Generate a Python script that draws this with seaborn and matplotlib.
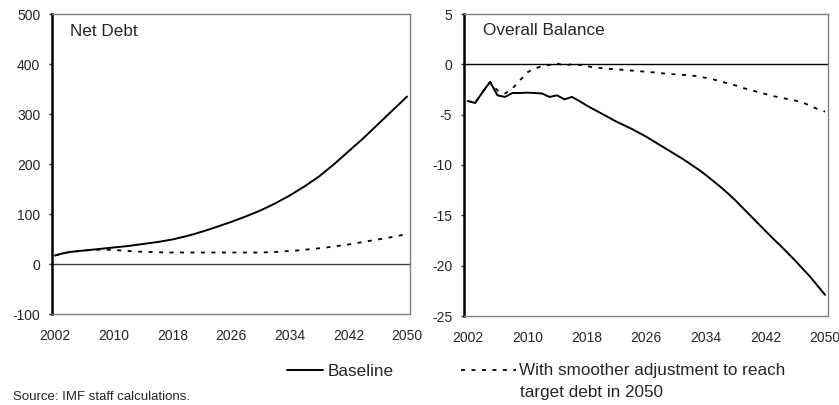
import numpy as np
import pandas as pd
import matplotlib
matplotlib.use("Agg")
import matplotlib.pyplot as plt
import seaborn as sns

years = list(range(2002, 2051))

debt_baseline = [17, 21, 24, 25.5, 27, 28.5, 30, 31.5, 33, 34.5,
                 36, 38, 40, 42, 44, 46.5, 49, 52.5, 56, 60,
                 64.5, 69, 74, 79, 84, 89.5, 95, 101, 107, 114,
                 121, 129, 137, 146, 155, 165, 175, 187, 199, 212,
                 225, 238, 251, 265, 279, 293, 307, 321, 335]
debt_smooth = [17, 21, 24, 25.5, 27, 28, 28.5, 28.5, 28, 27,
               26, 25, 24.5, 24, 23.5, 23, 23, 23, 23, 23,
               23, 23, 23, 23, 23, 23, 23, 23, 23, 23.5,
               24, 25, 26, 27, 28.5, 30, 31.5, 33, 35, 37,
               39, 41.5, 44, 46.5, 49, 51.5, 54, 57, 60]

bal_baseline = [-3.64, -3.84, -2.75, -1.75, -3.08, -3.24, -2.85, -2.85, -2.81, -2.85,
                -2.9, -3.24, -3.08, -3.48, -3.24, -3.64, -4.1, -4.5, -4.9, -5.3,
                -5.7, -6.05, -6.4, -6.8, -7.2, -7.65, -8.1, -8.55, -9.0, -9.45,
                -9.95, -10.45, -11.0, -11.6, -12.2, -12.85, -13.55, -14.3, -15.05, -15.8,
                -16.55, -17.3, -18.0, -18.75, -19.5, -20.3, -21.1, -22.0, -22.9]
bal_smooth = [-3.64, -3.84, -2.75, -1.75, -2.6, -2.9, -2.4, -1.6, -0.8, -0.4,
              -0.2, -0.05, 0.07, -0.1, 0.0, -0.05, -0.2, -0.3, -0.38, -0.45,
              -0.5, -0.55, -0.62, -0.68, -0.74, -0.8, -0.88, -0.95, -1.0, -1.05,
              -1.1, -1.2, -1.35, -1.5, -1.7, -1.9, -2.1, -2.35, -2.55, -2.75,
              -2.95, -3.15, -3.3, -3.45, -3.6, -3.8, -4.1, -4.45, -4.7]

xticks = [2002, 2010, 2018, 2026, 2034, 2042, 2050]
debt_yticks = [-100, 0, 100, 200, 300, 400, 500]
bal_yticks = [-25, -20, -15, -10, -5, 0, 5]

titles = ["Net Debt", "Overall Balance"]
legend_labels = ["Baseline", "With smoother adjustment to reach", "target debt in 2050"]
source_text = "Source: IMF staff calculations."

sns.set_style("white")
plt.rcParams["font.family"] = ["Liberation Sans", "DejaVu Sans"]

W, H = 839, 405
fig = plt.figure(figsize=(W / 100, H / 100), dpi=100)

def rect(x0, y0, x1, y1):
    return [x0 / W, 1 - y1 / H, (x1 - x0) / W, (y1 - y0) / H]

ax1 = fig.add_axes(rect(52, 14, 410, 314))
ax2 = fig.add_axes(rect(464, 14, 828, 316))

DOT = (0, (2.2, 3.6))

def style(ax, yticks, ylim, xlim, title, tx, ty, zero_color):
    ax.axhline(0, color=zero_color, lw=1.0, zorder=1)
    ax.set_xlim(*xlim)
    ax.set_ylim(*ylim)
    ax.set_xticks(xticks)
    ax.set_xticklabels([str(t) for t in xticks])
    ax.set_yticks(yticks)
    ax.set_yticklabels([str(t) for t in yticks])
    ax.tick_params(axis="x", length=0, pad=11, labelsize=10)
    ax.tick_params(axis="y", length=2.5, width=1, pad=6, labelsize=10, direction="out", left=True)
    ax.set_xlabel("")
    ax.set_ylabel("")
    for s in ["top", "right", "bottom"]:
        ax.spines[s].set_color("#808080")
        ax.spines[s].set_linewidth(1.0)
        ax.spines[s].set_visible(True)
    ax.spines["left"].set_color("black")
    ax.spines["left"].set_linewidth(1.8)
    ax.spines["left"].set_visible(True)
    ax.text(tx, ty, title, transform=ax.transAxes, fontsize=12.3, va="center", ha="left")
    if ax.get_legend() is not None:
        ax.get_legend().remove()

sns.lineplot(x=years, y=debt_baseline, ax=ax1, color="black", lw=1.4, zorder=3)
sns.lineplot(x=years, y=debt_smooth, ax=ax1, color="black", lw=1.3, linestyle=DOT, zorder=3)
style(ax1, debt_yticks, (-100, 500), (2001.6, 2050.4), titles[0], 0.05, 0.943, "#404040")

l_base = sns.lineplot(x=years, y=bal_baseline, ax=ax2, color="black", lw=1.4, zorder=3).lines[-1]
l_smooth = sns.lineplot(x=years, y=bal_smooth, ax=ax2, color="black", lw=1.3, linestyle=DOT, zorder=3).lines[-1]
style(ax2, bal_yticks, (-25, 5), (2001.5, 2050.4), titles[1], 0.052, 0.947, "black")

fig.legend([l_base], [legend_labels[0]], loc="center left",
           bbox_to_anchor=(287 / W, 1 - 371 / H), frameon=False,
           handlelength=2.1, handletextpad=0.25, borderpad=0, borderaxespad=0,
           fontsize=12.3)
fig.legend([l_smooth], [legend_labels[1]], loc="center left",
           bbox_to_anchor=(461 / W, 1 - 371 / H), frameon=False,
           handlelength=3.2, handletextpad=0.2, borderpad=0, borderaxespad=0,
           fontsize=12.3)
fig.text(520 / W, 1 - 392 / H, legend_labels[2], fontsize=12.3, va="center", ha="left")

fig.text(13 / W, 2 / H, source_text, fontsize=9.5, va="bottom", ha="left")

fig.savefig("out.png", dpi=100)
